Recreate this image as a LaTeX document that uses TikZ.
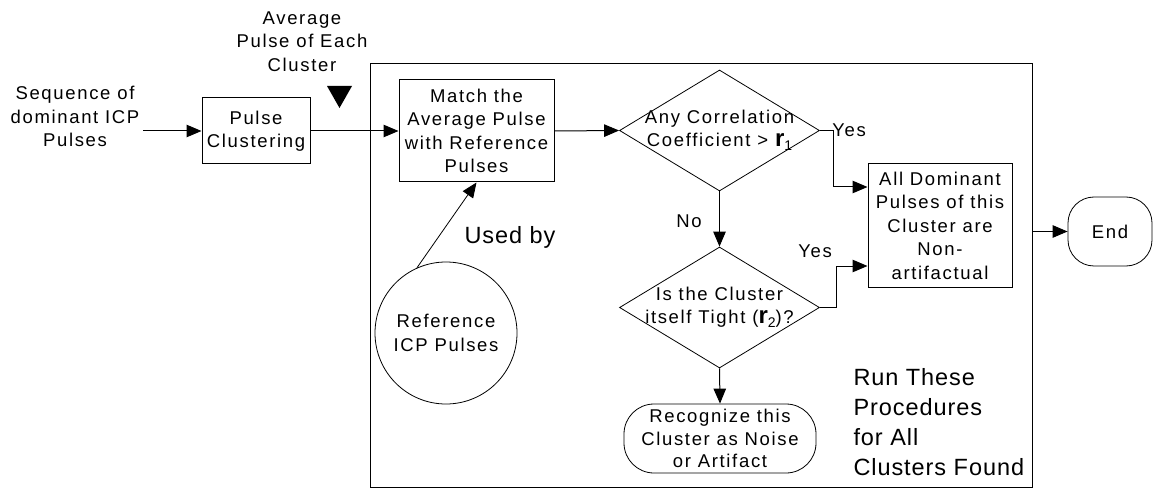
\documentclass[tikz,border=0pt]{standalone}
\usepackage{fontspec}
\setmainfont{Liberation Sans}[LetterSpace=9]
\newfontfamily\bigf{Liberation Sans}[LetterSpace=4]
\usetikzlibrary{arrows.meta,shapes.geometric,calc}
\newcommand\rsub[1]{{\fontsize{24}{24}\selectfont\bfseries r}\raisebox{-4pt}{\fontsize{14}{14}\selectfont #1}}
\begin{document}
\begin{tikzpicture}[x=1pt,y=-1pt,line width=1pt,
  arr/.style={-{Triangle[length=15pt,width=12.5pt]}},
  txt/.style={font=\fontsize{18.5}{23.5}\selectfont,align=center,inner sep=0pt},
  bigtxt/.style={font=\bigf\fontsize{23.5}{30}\selectfont,align=center,inner sep=0pt},
  box/.style={draw,rectangle,txt},
  dia/.style={draw,diamond,inner sep=0pt,minimum width=200pt,minimum height=121pt,line width=.8pt},
  term/.style={draw,rectangle,rounded corners=30pt,txt,line width=.8pt}]
\useasboundingbox (0,0) rectangle (1154,489);
\node[draw,inner sep=0pt,minimum width=662pt,minimum height=423pt] (frame) at (701,275.5) {};
\node[txt] (seq) at (75,116.5) {Sequence of\\dominant ICP\\Pulses};
\node[txt] (avg) at (302,41.5) {Average\\Pulse of Each\\Cluster};
\fill (327,86) -- (352,86) -- (339.5,108) -- cycle;
\node[box,minimum width=108pt,minimum height=66pt] (pc) at (256,131) {Pulse\\Clustering};
\node[box,minimum width=155pt,minimum height=102pt] (match) at (476.5,131) {Match the\\Average Pulse\\with Reference\\Pulses};
\node[dia] (d1) at (719.5,130.5) {};
\node[txt] (d1t) at (d1) {Any Correlation\\Coefficient > \rsub{1}};
\node[dia] (d2) at (719.5,307.5) {};
\node[txt] (d2t) at (d2) {Is the Cluster\\itself Tight (\rsub{2})?};
\node[term,minimum width=192pt,minimum height=69pt,font=\fontsize{18.5}{22.5}\selectfont] (rec) at (720,438.5) {Recognize this\\Cluster as Noise\\or Artifact};
\node[box,minimum width=144pt,minimum height=123pt] (all) at (940,225.5) {All Dominant\\Pulses of this\\Cluster are\\Non-\\artifactual};
\node[term,rounded corners=26pt,minimum width=84pt,minimum height=69pt] (end) at (1110,231.5) {End};
\node[draw,circle,minimum size=142pt,txt,line width=.8pt] (ref) at (446,333) {Reference\\ICP Pulses};
\node[bigtxt] (used) at (510,237.5) {Used by};
\node[bigtxt,align=left,anchor=north west] (run) at (853,368) {Run These\\Procedures\\for All\\Clusters Found};
\node[txt] (no) at (689,221.5) {No};
\node[txt] (yes1) at (849,130) {Yes};
\node[txt] (yes2) at (815,251) {Yes};
\coordinate (s0) at (143,131);
\draw[arr] (s0) -- (pc.west);
\draw[arr] (pc.east) -- (match.west);
\draw[arr] (match.east) -- (d1.west);
\draw[arr] (d1.south) -- (d2.north);
\draw[arr] (d2.south) -- (rec.north);
\draw[arr] (d1.east) -- ++(14,0) |- ([yshift=38.5pt]all.west);
\draw[arr] (d2.east) -- ++(17,0) |- ([yshift=-40.5pt]all.west);
\draw[arr,line width=.8pt] (ref.114) -- (match.south);
\draw[arr] (frame.east |- end.west) -- (end.west);
\end{tikzpicture}
\end{document}
